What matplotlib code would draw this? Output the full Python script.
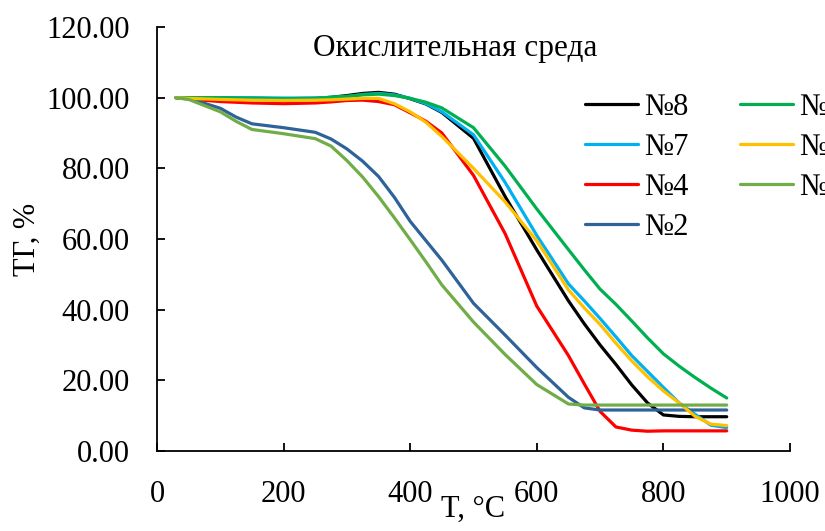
import numpy as np
import matplotlib
matplotlib.use("Agg")
import matplotlib.pyplot as plt

plt.rcParams["font.family"] = ["Liberation Serif", "DejaVu Serif"]

# temperature grid, degC
T = [30, 50, 100, 125, 150, 200, 250, 275, 300, 325, 350, 375, 400, 425, 450,
     500, 550, 600, 650, 675, 700, 725, 750, 775, 800, 825, 850, 875, 900]

tg_8 = [100, 100, 99.9, 99.85, 99.8, 99.7, 99.8, 100.1, 100.6, 101.2, 101.5,
        101, 99.7, 98.2, 95.8, 88.5, 72, 56.9, 42.5, 36, 30, 24.5, 18.7, 13.6,
        10.2, 9.8, 9.7, 9.7, 9.7]
tg_7 = [100, 100, 100, 100, 100, 99.9, 99.9, 100.1, 100.3, 100.9, 101.2,
        100.8, 99.8, 98.3, 96, 89.5, 76, 61, 47.3, 42.5, 37.5, 32.3, 27, 22.5,
        18, 13.6, 10.4, 7.3, 6.6]
tg_4 = [100, 99.6, 98.9, 98.7, 98.5, 98.3, 98.5, 98.8, 99.2, 99.3, 98.9,
        98, 95.7, 93.3, 90, 78, 61.5, 41, 27, 19, 11.2, 6.8, 5.9, 5.6,
        5.7, 5.7, 5.7, 5.7, 5.7]
tg_2 = [100, 99.8, 97, 94.5, 92.6, 91.5, 90.2, 88.3, 85.5, 82, 77.7,
        71.8, 65, 59.5, 54, 41.8, 32.8, 23.6, 15.2, 12.2, 11.6, 11.6, 11.6,
        11.6, 11.6, 11.6, 11.6, 11.6, 11.6]
tg_9a = [100, 100, 100, 99.9, 99.8, 99.7, 99.8, 100.1, 100.4, 100.8, 101,
         100.6, 99.8, 98.7, 97.1, 91.5, 80.6, 68.5, 57, 51.3, 45.8, 41.5, 36.8,
         32, 27.5, 24, 20.8, 17.8, 15]
tg_9b = [100, 99.8, 99.5, 99.4, 99.3, 99.2, 99.3, 99.4, 99.6, 99.8, 99.8,
         98.3, 96, 93, 89, 80, 70.5, 59.5, 45.6, 40.5, 35.8, 30.5, 25.5, 21,
         17, 13.6, 9.8, 7.6, 7.2]
tg_9c = [100, 99.5, 96, 93.3, 91, 89.8, 88.4, 86.3, 82.2, 77.5, 72,
         66, 59.8, 53.5, 47, 36.5, 27.3, 18.8, 13.3, 13, 13, 13, 13, 13,
         13, 13, 13, 13, 13]

labels = ["№8", "№7", "№4", "№2", "№9", "№9а", "№9б"]
series = [tg_8, tg_7, tg_4, tg_2, tg_9a, tg_9b, tg_9c]
colors = ["#000000", "#00B0F0", "#FF0000", "#2E6299", "#00B050", "#FFC000", "#70AD47"]

fig = plt.figure(figsize=(8.25, 5.31), dpi=100)
ax = fig.add_axes([157 / 825, 80 / 531, 633 / 825, 424 / 531])

for y, c, lab in zip(series, colors, labels):
    ax.plot(T, y, color=c, lw=2.3, label=lab, solid_capstyle="round",
            solid_joinstyle="round")

ax.set_xlim(0, 1000)
ax.set_ylim(0, 120)
ax.set_xticks(np.arange(0, 1001, 200))
ax.set_yticks(np.arange(0, 121, 20))
ax.yaxis.set_major_formatter(matplotlib.ticker.FormatStrFormatter("%.2f"))

for s in ["top", "right"]:
    ax.spines[s].set_visible(False)
for s in ["left", "bottom"]:
    ax.spines[s].set_linewidth(1.3)
ax.tick_params(direction="in", length=6, width=1.3, labelsize=22)
ax.tick_params(axis="y", pad=19.5)
ax.tick_params(axis="x", pad=21)

ax.set_xlabel("T, °C", fontsize=22, labelpad=-10)
ax.set_ylabel("ТГ, %", fontsize=22, labelpad=3)

ax.text(0.471, 0.95, "Окислительная среда", transform=ax.transAxes,
        ha="center", va="center", fontsize=22.5)

fig.legend(loc="upper left", bbox_to_anchor=(585 / 825, 1 - 93 / 531),
           ncol=2, frameon=False, fontsize=22, borderpad=0, borderaxespad=0,
           handlelength=1.73, handletextpad=0.2, columnspacing=1.7,
           labelspacing=0.36)

fig.savefig("out.png", dpi=100)
